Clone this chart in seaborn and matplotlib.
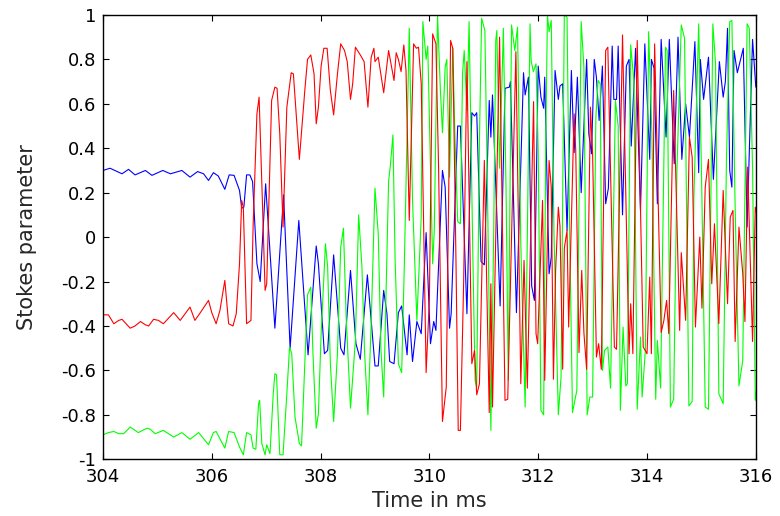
import pandas as pd
import seaborn as sns
import matplotlib.pyplot as plt

# Stokes parameters (time in ms, value)
t_blue = [304.00, 304.13, 304.35, 304.47, 304.59, 304.78, 304.90, 305.10, 305.24, 305.45,
          305.60, 305.74, 305.85, 305.94, 306.03, 306.12, 306.24, 306.32, 306.41, 306.51,
          306.55, 306.59, 306.64, 306.70, 306.75, 306.83, 306.89, 306.99, 307.16, 307.32,
          307.44, 307.60, 307.77, 307.92, 307.96, 308.07, 308.13, 308.24, 308.37, 308.43,
          308.55, 308.65, 308.73, 308.86, 309.00, 309.06, 309.16, 309.22, 309.27, 309.35,
          309.43, 309.49, 309.59, 309.63, 309.69, 309.77, 309.85, 309.94, 310.02, 310.08,
          310.12, 310.24, 310.29, 310.37, 310.40, 310.52, 310.57, 310.69, 310.78, 310.83,
          310.87, 310.95, 311.01, 311.10, 311.13, 311.16, 311.30, 311.39, 311.47, 311.49,
          311.60, 311.73, 311.76, 311.82, 311.88, 311.93, 312.00, 312.05, 312.10, 312.12,
          312.20, 312.24, 312.31, 312.37, 312.40, 312.45, 312.53, 312.61, 312.66, 312.72,
          312.79, 312.89, 312.93, 312.98, 313.03, 313.07, 313.12, 313.18, 313.24, 313.29,
          313.36, 313.39, 313.44, 313.47, 313.55, 313.62, 313.67, 313.71, 313.79, 313.88,
          313.96, 314.05, 314.08, 314.13, 314.19, 314.26, 314.35, 314.41, 314.50, 314.57,
          314.64, 314.71, 314.78, 314.88, 314.95, 314.98, 315.04, 315.13, 315.22, 315.33,
          315.40, 315.44, 315.48, 315.52, 315.56, 315.60, 315.66, 315.72, 315.77, 315.84,
          315.94, 316.00]
v_blue = [0.30, 0.31, 0.285, 0.305, 0.28, 0.30, 0.278, 0.30, 0.285, 0.30,
          0.27, 0.295, 0.285, 0.255, 0.29, 0.275, 0.215, 0.28, 0.278, 0.21,
          0.13, 0.135, 0.28, 0.28, 0.25, -0.12, -0.20, 0.24, -0.41, 0.19,
          -0.50, 0.075, -0.53, -0.04, -0.12, -0.525, -0.51, -0.08, -0.50, -0.53,
          -0.15, -0.48, -0.55, -0.17, -0.58, -0.58, -0.24, -0.345, -0.56, -0.57,
          -0.34, -0.31, -0.53, -0.35, -0.56, -0.38, -0.435, 0.02, -0.48, -0.38,
          -0.42, 0.30, 0.225, -0.41, -0.345, 0.50, 0.50, -0.345, 0.56, 0.545,
          0.56, -0.11, -0.125, 0.615, 0.45, 0.64, -0.31, 0.67, 0.675, 0.70,
          -0.34, 0.74, 0.64, 0.72, -0.22, -0.285, 0.77, 0.63, 0.58, 0.72,
          -0.165, -0.09, 0.75, 0.62, 0.68, 0.69, 0.03, 0.75, 0.38, 0.72,
          0.20, 0.80, 0.465, 0.375, 0.80, 0.72, 0.525, 0.77, 0.15, 0.22,
          0.86, 0.62, 0.62, 0.86, 0.10, 0.77, 0.80, 0.41, 0.85, 0.12,
          0.87, 0.35, 0.80, 0.76, 0.15, 0.89, 0.45, 0.89, 0.33, 0.90,
          0.35, 0.60, 0.45, 0.88, 0.29, 0.80, 0.62, 0.81, 0.26, 0.79,
          0.63, 0.70, 0.94, 0.30, 0.225, 0.84, 0.74, 0.80, 0.85, 0.045,
          0.89, 0.675]

t_red = [304.00, 304.10, 304.20, 304.29, 304.35, 304.50, 304.59, 304.69, 304.78, 304.84,
         304.93, 305.02, 305.11, 305.30, 305.42, 305.51, 305.60, 305.69, 305.79, 305.94,
         306.00, 306.08, 306.15, 306.24, 306.31, 306.39, 306.45, 306.51, 306.55, 306.58,
         306.64, 306.72, 306.76, 306.83, 306.87, 306.93, 306.98, 307.01, 307.10, 307.16,
         307.20, 307.25, 307.31, 307.38, 307.46, 307.50, 307.61, 307.71, 307.76, 307.82,
         307.88, 307.92, 307.96, 308.01, 308.06, 308.12, 308.18, 308.24, 308.31, 308.37,
         308.44, 308.49, 308.55, 308.59, 308.64, 308.73, 308.80, 308.87, 308.93, 308.98,
         309.00, 309.06, 309.16, 309.25, 309.28, 309.35, 309.39, 309.43, 309.48, 309.53,
         309.57, 309.63, 309.71, 309.76, 309.80, 309.85, 309.94, 310.00, 310.06, 310.12,
         310.17, 310.24, 310.31, 310.39, 310.43, 310.49, 310.53, 310.57, 310.63, 310.69,
         310.78, 310.83, 310.87, 310.92, 311.01, 311.10, 311.13, 311.16, 311.29, 311.39,
         311.44, 311.59, 311.68, 311.74, 311.80, 311.915, 311.96, 311.99, 312.08, 312.12,
         312.17, 312.20, 312.24, 312.28, 312.32, 312.37, 312.40, 312.45, 312.48, 312.53,
         312.56, 312.66, 312.69, 312.75, 312.80, 312.84, 312.89, 312.96, 313.00, 313.07,
         313.11, 313.16, 313.24, 313.28, 313.40, 313.44, 313.55, 313.67, 313.70, 313.74,
         313.82, 313.93, 314.00, 314.05, 314.08, 314.14, 314.26, 314.31, 314.36, 314.40,
         314.49, 314.60, 314.63, 314.71, 314.78, 314.83, 314.89, 314.97, 315.01, 315.07,
         315.13, 315.19, 315.24, 315.32, 315.40, 315.48, 315.53, 315.58, 315.62, 315.69,
         315.76, 315.80, 315.85, 315.94, 315.99, 316.02]
v_red = [-0.35, -0.35, -0.39, -0.375, -0.37, -0.41, -0.40, -0.38, -0.395, -0.40,
         -0.37, -0.375, -0.39, -0.34, -0.375, -0.345, -0.315, -0.375, -0.34, -0.285,
         -0.34, -0.39, -0.33, -0.195, -0.39, -0.40, -0.345, -0.12, 0.165, 0.135,
         -0.39, -0.375, 0.05, 0.555, 0.63, 0.165, -0.24, -0.21, 0.615, 0.675,
         0.67, 0.465, 0.045, 0.585, 0.74, 0.735, 0.35, 0.66, 0.80, 0.82,
         0.735, 0.51, 0.585, 0.77, 0.85, 0.85, 0.66, 0.55, 0.735, 0.87,
         0.84, 0.79, 0.62, 0.69, 0.855, 0.82, 0.79, 0.585, 0.81, 0.85,
         0.79, 0.81, 0.65, 0.84, 0.80, 0.705, 0.83, 0.80, 0.745, 0.865,
         0.75, 0.075, 0.87, 0.85, 0.855, 0.69, -0.61, -0.28, 0.915, 0.87,
         0.30, -0.83, -0.675, 0.885, 0.85, -0.13, -0.87, -0.87, -0.20, 0.79,
         -0.57, -0.51, -0.71, -0.66, 0.345, -0.79, -0.21, -0.765, 0.90, -0.735,
         -0.73, 0.835, -0.66, -0.105, -0.68, 0.61, -0.435, -0.48, 0.165, -0.645,
         0.0, 0.345, 0.225, -0.64, -0.15, 0.135, 0.05, -0.595, -0.05, 0.03,
         -0.405, 0.555, 0.39, -0.52, -0.15, -0.43, -0.595, 0.585, 0.375, -0.54,
         -0.48, -0.595, 0.84, 0.855, -0.495, -0.505, 0.91, -0.525, -0.30, -0.525,
         0.885, -0.495, -0.525, -0.18, -0.525, 0.87, -0.43, -0.375, -0.285, -0.435,
         0.66, -0.42, -0.07, -0.375, 0.45, 0.36, -0.405, 0.0, -0.32, 0.225,
         0.35, -0.21, 0.06, -0.39, 0.21, -0.30, 0.09, 0.12, -0.47, 0.045,
         -0.165, -0.38, 0.315, -0.47, 0.135, 0.10]

t_green = [304.00, 304.10, 304.20, 304.29, 304.38, 304.50, 304.65, 304.81, 304.87, 304.96,
           305.11, 305.30, 305.45, 305.60, 305.76, 305.94, 306.03, 306.08, 306.24, 306.31,
           306.41, 306.51, 306.58, 306.64, 306.72, 306.76, 306.81, 306.86, 306.88, 306.92,
           306.98, 307.01, 307.07, 307.13, 307.16, 307.19, 307.25, 307.31, 307.38, 307.43,
           307.47, 307.53, 307.61, 307.65, 307.76, 307.82, 307.86, 307.92, 307.96, 308.01,
           308.09, 308.13, 308.18, 308.24, 308.31, 308.37, 308.42, 308.47, 308.55, 308.64,
           308.70, 308.76, 308.81, 308.87, 308.93, 309.00, 309.06, 309.11, 309.16, 309.25,
           309.28, 309.33, 309.37, 309.43, 309.49, 309.54, 309.63, 309.69, 309.77, 309.85,
           309.88, 309.94, 309.97, 310.06, 310.09, 310.15, 310.20, 310.24, 310.29, 310.32,
           310.37, 310.43, 310.47, 310.52, 310.57, 310.61, 310.64, 310.69, 310.73, 310.80,
           310.84, 310.87, 310.92, 310.96, 311.02, 311.07, 311.13, 311.18, 311.22, 311.24,
           311.29, 311.36, 311.41, 311.45, 311.51, 311.57, 311.62, 311.68, 311.76, 311.85,
           311.87, 311.91, 311.96, 312.00, 312.05, 312.10, 312.14, 312.17, 312.20, 312.24,
           312.29, 312.37, 312.42, 312.48, 312.53, 312.57, 312.63, 312.71, 312.79, 312.84,
           312.90, 312.95, 313.00, 313.06, 313.10, 313.14, 313.18, 313.22, 313.28, 313.33,
           313.42, 313.47, 313.51, 313.56, 313.61, 313.64, 313.70, 313.76, 313.82, 313.88,
           313.91, 313.97, 314.03, 314.09, 314.16, 314.19, 314.25, 314.34, 314.37, 314.43,
           314.49, 314.55, 314.63, 314.69, 314.77, 314.83, 314.86, 314.95, 315.01, 315.07,
           315.13, 315.21, 315.26, 315.32, 315.40, 315.46, 315.52, 315.56, 315.62, 315.69,
           315.76, 315.84, 315.88, 315.94, 315.99, 316.02]
v_green = [-0.89, -0.88, -0.875, -0.885, -0.885, -0.855, -0.88, -0.86, -0.865, -0.885,
           -0.87, -0.90, -0.88, -0.91, -0.88, -0.935, -0.88, -0.875, -0.95, -0.875,
           -0.88, -0.945, -0.98, -0.88, -0.89, -0.95, -0.955, -0.75, -0.735, -0.93,
           -0.98, -0.935, -0.975, -0.705, -0.615, -0.62, -0.98, -0.98, -0.705, -0.495,
           -0.525, -0.81, -0.93, -0.94, -0.26, -0.225, -0.525, -0.86, -0.795, -0.435,
           -0.03, -0.135, -0.57, -0.83, -0.525, -0.045, 0.04, -0.36, -0.77, -0.465,
           0.10, -0.135, -0.525, -0.80, -0.39, 0.22, 0.015, -0.51, -0.72, 0.25,
           0.315, 0.46, -0.105, -0.57, -0.61, -0.12, 0.94, 0.165, -0.375, 0.09,
           0.97, 0.80, 0.86, -0.12, 0.03, 1.0, 0.675, 0.47, 0.765, 0.80,
           0.27, 0.85, 0.45, 0.07, 0.06, 0.74, 0.84, 0.57, 0.97, -0.10,
           -0.645, -0.675, 0.435, 0.985, 0.93, 0.165, -0.87, -0.015, 0.885, 0.93,
           0.31, 0.94, 0.2, -0.645, 0.955, 0.84, 0.945, -0.03, -0.765, 0.96,
           0.795, 0.745, 0.78, 0.39, -0.78, -0.80, 0.465, 1.0, 0.925, 0.975,
           0.015, -0.80, -0.63, 1.0, 0.99, 0.165, -0.79, -0.69, 0.97, 0.765,
           -0.80, -0.72, -0.72, 0.54, 0.705, 0.69, -0.60, -0.51, -0.495, -0.68,
           0.615, 0.5, -0.78, -0.405, -0.67, -0.66, 0.865, 0.70, -0.775, -0.45,
           -0.72, -0.51, 0.925, 0.465, -0.73, -0.465, -0.68, 0.855, 0.84, -0.765,
           -0.73, 0.3, 0.955, 0.895, -0.76, -0.74, 0.165, 0.96, 0.165, -0.765,
           -0.775, 0.96, 0.78, -0.705, -0.75, 0.345, 0.97, 0.975, 0.135, -0.67,
           -0.555, 0.96, 0.94, 0.315, -0.735, -0.675]

x_ticks = [304, 306, 308, 310, 312, 314, 316]
y_ticks = [-1, -0.8, -0.6, -0.4, -0.2, 0, 0.2, 0.4, 0.6, 0.8, 1]

# long table for seaborn
frames = []
for name, t, v in [('S3', t_blue, v_blue), ('S2', t_green, v_green), ('S1', t_red, v_red)]:
    frames.append(pd.DataFrame({'time': t, 'value': v, 'param': name}))
df = pd.concat(frames, ignore_index=True)

sns.set_style('ticks')
plt.rcParams['font.family'] = ['DejaVu Sans']

fig, ax = plt.subplots(figsize=(7.8, 5.16), dpi=100)
fig.subplots_adjust(left=0.132, right=0.969, bottom=0.110, top=0.971)

sns.lineplot(data=df, x='time', y='value', hue='param',
             hue_order=['S3', 'S2', 'S1'],
             palette={'S3': '#0000ff', 'S2': '#00ff00', 'S1': '#ff0000'},
             estimator=None, sort=False, legend=False, linewidth=0.8, ax=ax)

ax.set_xlim(304, 316)
ax.set_ylim(-1, 1)
ax.set_xticks(x_ticks)
ax.set_xticklabels([str(x) for x in x_ticks])
ax.set_yticks(y_ticks)
ax.set_yticklabels([f'{y:g}' for y in y_ticks])
ax.tick_params(direction='in', top=True, right=True, length=4.5, width=0.8,
               labelsize=13, colors='black')
ax.tick_params(axis='x', pad=6)
ax.tick_params(axis='y', pad=5)
for sp in ax.spines.values():
    sp.set_visible(True)
    sp.set_linewidth(1.0)
    sp.set_color('black')

ax.set_xlabel('Time in ms', fontsize=15, labelpad=4)
ax.set_ylabel('Stokes parameter', fontsize=15, labelpad=17)

fig.savefig('out.png', dpi=100)
